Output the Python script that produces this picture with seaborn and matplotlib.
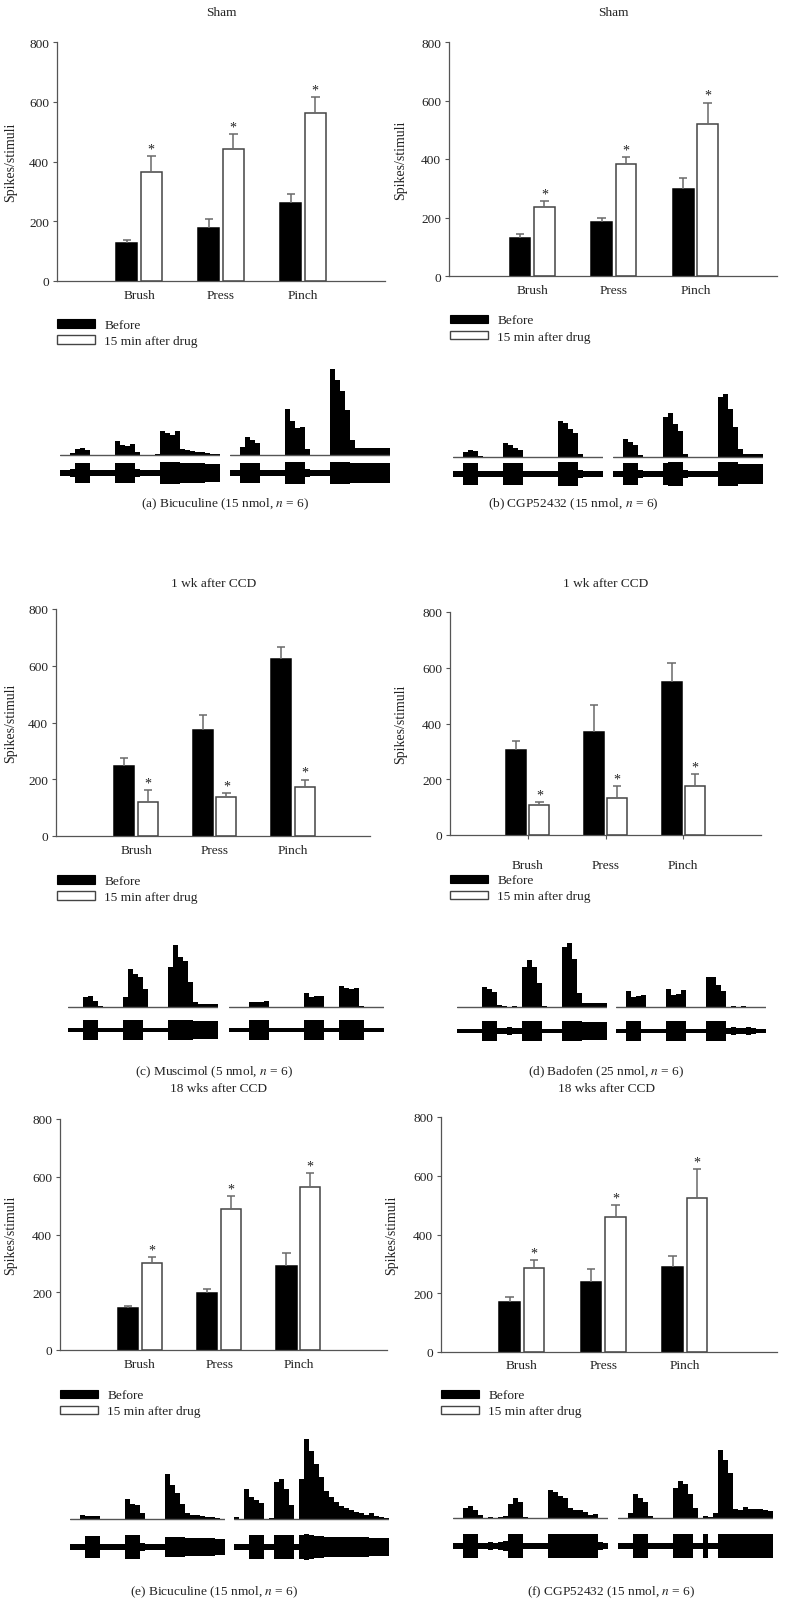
import numpy as np
import pandas as pd
import matplotlib
matplotlib.use("Agg")
import matplotlib.pyplot as plt
import seaborn as sns
from matplotlib.patches import Patch

# ---------------- data ----------------
categories = ["Brush", "Press", "Pinch"]
conditions = ["Before", "15 min after drug"]

a_before, a_before_sem = [128, 179, 262], [8, 27, 28]
a_after, a_after_sem = [364, 443, 562], [54, 48, 53]
b_before, b_before_sem = [130, 185, 298], [15, 13, 36]
b_after, b_after_sem = [235, 382, 518], [21, 24, 75]
c_before, c_before_sem = [245, 374, 624], [29, 51, 41]
c_after, c_after_sem = [120, 136, 171], [43, 15, 28]
d_before, d_before_sem = [305, 371, 548], [34, 96, 69]
d_after, d_after_sem = [108, 132, 174], [9, 42, 45]
e_before, e_before_sem = [145, 198, 291], [6, 13, 44]
e_after, e_after_sem = [300, 490, 563], [21, 44, 49]
f_before, f_before_sem = [169, 237, 288], [17, 45, 40]
f_after, f_after_sem = [285, 458, 524], [28, 43, 98]

titles = ["Sham", "Sham", "1 wk after CCD", "1 wk after CCD", "18 wks after CCD", "18 wks after CCD"]
captions = ["(a) Bicuculine (15 nmol, $n$ = 6)", "(b) CGP52432 (15 nmol, $n$ = 6)",
            "(c) Muscimol (5 nmol, $n$ = 6)", "(d) Badofen (25 nmol, $n$ = 6)",
            "(e) Bicuculine (15 nmol, $n$ = 6)", "(f) CGP52432 (15 nmol, $n$ = 6)"]

# peristimulus histograms (spikes per bin) and raw-trace envelopes
a_hist_before = [0.5,0.5,2,6,7,5,0.5,0,0.5,0, 0.5,14,10,9,11,3,0.5,0,0.5,1, 24,22,20,24,6,5,4,3,3,2, 1,1]
a_hist_after = [0.5,0.5,8,18,15,12,0.5,0,0,0.5, 0,46,34,27,28,6,0.5,0,0,0.5, 86,75,64,45,15,7,7,7,7,7, 7,7]
a_raw_before = [3,3,4,10,10,10,3,3,3,3, 3,10,10,10,10,4,3,3,3,3, 11,11,11,11,10,10,10,10,10,9, 9,9]
a_raw_after = [3,3,10,10,10,10,3,3,3,3, 3,11,11,11,11,4,3,3,3,3, 11,11,11,11,10,10,10,10,10,10, 10,10]

b_hist_before = [0.5,0.5,5,7,6,1,0.5,0.5,0.5,0.5, 14,12,9,7,0.5,0.5,0.5,0.5,0.5,0.5, 0.5,36,34,28,24,3,0.5,0.5,0.5,0.5]
b_hist_after = [0.5,0.5,18,15,12,2,0.5,0.5,0.5,0.5, 40,44,33,26,3,0.5,0,0.5,0,0.5, 0.5,60,63,48,30,8,3,3,3,3]
b_raw_before = [3,3,11,11,11,3,3,3,3,3, 11,11,11,11,3,3,3,3,3,3, 3,12,12,12,12,4,3,3,3,3]
b_raw_after = [3,3,11,11,11,4,3,3,3,3, 11,12,12,12,4,3,3,3,3,3, 3,12,12,12,12,10,10,10,10,10]

c_hist_before = [0,0,0.5,10,11,6,1,0.5,0,0.5, 0.5,10,38,33,30,18,0.5,0.5,0,0.5, 40,62,50,46,25,5,3,3,3,3]
c_hist_after = [0,0,0,0,5,5,5,6,0,0, 0,0,0,0,0,14,10,11,11,0, 0,0,21,19,18,19,1,0,0,0, 0]
c_raw_before = [2,2,2,10,10,10,2,2,2,2, 2,10,10,10,10,2,2,2,2,2, 10,10,10,10,10,9,9,9,9,9]
c_raw_after = [2,2,2,2,10,10,10,10,2,2, 2,2,2,2,2,10,10,10,10,2, 2,2,10,10,10,10,10,2,2,2, 2]

d_hist_before = [0,0,0,0,0.5,20,18,15,2,1, 0.5,1,0.5,40,47,40,24,1,0,0, 0,60,64,48,14,4,4,4,4,4]
d_hist_after = [0,0,16,10,11,12,0,0,0,0, 18,12,13,17,0,0,0,0,30,30, 22,16,0.5,1,0.5,1,0,0,0,0]
d_raw_before = [2,2,2,2,2,10,10,10,3,3, 4,3,3,10,10,10,10,2,2,2, 2,10,10,10,10,9,9,9,9,9]
d_raw_after = [2,2,10,10,10,2,2,2,2,2, 10,10,10,10,2,2,2,2,10,10, 10,10,3,4,3,3,4,3,2,2]

e_hist_before = [0,0,4,3,3,3,0,0,0,0, 0,20,15,14,6,0,0,0,0,45, 34,26,15,6,4,4,3,2,2,1, 0]
e_hist_after = [2,0,30,22,19,16,0,1,37,40, 30,14,0,40,80,68,55,42,28,22, 17,13,11,9,7,6,4,6,3,2, 1]
e_raw_before = [3,3,3,11,11,11,3,3,3,3, 3,12,12,12,4,3,3,3,3,10, 10,10,10,9,9,9,9,9,9,8, 8]
e_raw_after = [3,3,3,12,12,12,3,3,12,12, 12,12,3,12,13,12,11,11,10,10, 10,10,10,10,10,10,10,9,9,9, 9]

f_hist_before = [0,0,10,12,8,3,0.5,1,0.5,1, 2,14,20,16,1,0,0,0,0,28, 26,22,20,10,8,8,6,3,4,0, 0]
f_hist_after = [0,0,5,24,20,16,2,0,0,0, 0,30,37,34,24,10,0,2,1,5, 68,58,45,9,8,11,9,9,9,8, 7]
f_raw_before = [3,3,12,12,12,3,3,4,3,4, 5,12,12,12,3,3,3,3,3,12, 12,12,12,12,12,12,12,12,12,4, 3]
f_raw_after = [3,3,3,12,12,12,3,3,3,3, 3,12,12,12,12,3,3,12,3,3, 12,12,12,12,12,12,12,12,12,12, 12]

# ---------------- style ----------------
sns.set_theme(style="white")
plt.rcParams["font.family"] = ["Liberation Serif", "DejaVu Serif"]
plt.rcParams["mathtext.fontset"] = "stix"
AXC = "#555555"
ERC = "#6a6a6a"
TXT = "#222222"
FS = 9.6

W, H = 785, 1606
fig = plt.figure(figsize=(W / 100, H / 100), dpi=100)
fig.patch.set_facecolor("white")


def add_ax(l, t, r, b):
    return fig.add_axes([l / W, 1 - b / H, (r - l) / W, (b - t) / H])


def ftext(x, y, s, **kw):
    fig.text(x / W, 1 - y / H, s, ha="center", va="center", fontsize=FS, color=TXT, **kw)


def bar_panel(box, before, bsem, after, asem, xlim, ylab_dx, xpad, xtick_len):
    l, t, r, b = box
    ax = add_ax(l, t, r, b)
    df = pd.DataFrame({
        "Stimulus": categories * 2,
        "Condition": [conditions[0]] * 3 + [conditions[1]] * 3,
        "Spikes": list(before) + list(after),
    })
    sns.barplot(data=df, x="Stimulus", y="Spikes", hue="Condition", order=categories,
                hue_order=conditions, palette=["black", "white"], saturation=1,
                width=0.6, gap=0.15, errorbar=None, legend=False, ax=ax,
                linewidth=1.1, edgecolor="#444444", zorder=2)
    px_per_unit = (r - l) / (xlim[1] - xlim[0])
    half_cap = 4.2 / px_per_unit
    for cont, sems, sig in zip(ax.containers, [bsem, asem], [False, True]):
        for p, s in zip(cont.patches, sems):
            if not sig:
                p.set_edgecolor("black")
            x = p.get_x() + p.get_width() / 2
            top = p.get_height()
            ax.vlines(x, top, top + s, colors=ERC, linewidth=1.1, zorder=3)
            ax.hlines(top + s, x - half_cap, x + half_cap, colors=ERC, linewidth=1.1, zorder=3)
            if sig:
                ax.annotate("*", (x, top + s), xytext=(0, 0.5), textcoords="offset points",
                            ha="center", va="bottom", fontsize=FS + 0.5, color=TXT)
    ax.set_ylim(0, 800)
    ax.set_yticks([0, 200, 400, 600, 800])
    ax.set_xlim(*xlim)
    ax.set_xlabel("")
    ax.set_ylabel("Spikes/stimuli", fontsize=FS + 0.4, color=TXT)
    ax.yaxis.set_label_coords(-ylab_dx / (r - l), 0.5)
    for side in ["top", "right"]:
        ax.spines[side].set_visible(False)
    for side in ["left", "bottom"]:
        ax.spines[side].set_color(AXC)
        ax.spines[side].set_linewidth(0.9)
    ax.tick_params(axis="y", direction="out", length=3, width=0.8, color=AXC,
                   pad=2.8, labelsize=FS, labelcolor=TXT, left=True)
    ax.tick_params(axis="x", direction="out", length=xtick_len, width=0.8, color=AXC,
                   pad=xpad, labelsize=FS, labelcolor=TXT, bottom=xtick_len > 0)
    ax.set_facecolor("white")
    ax.grid(False)
    return ax


def legend_at(x, y_row1):
    handles = [Patch(facecolor="black", edgecolor="black", linewidth=0.8),
               Patch(facecolor="white", edgecolor="#444444", linewidth=1.0)]
    fig.legend(handles=handles, labels=conditions, loc="upper left",
               bbox_to_anchor=(x / W, 1 - (y_row1 - 7) / H), frameon=False,
               fontsize=FS, handlelength=2.85, handleheight=0.6, handletextpad=0.7,
               labelspacing=0.3, borderpad=0, borderaxespad=0, labelcolor=TXT)


def trace(x0, base_y, raw_y, heights, env):
    n = len(heights)
    x1 = x0 + 5 * n
    hax = add_ax(x0, base_y - 95, x1, base_y + 2)
    hax.bar(np.arange(n), heights, width=1, align="edge", color="black", linewidth=0)
    hax.axhline(0, color=AXC, lw=1.0)
    hax.set_xlim(0, n)
    hax.set_ylim(-2, 95)
    hax.axis("off")
    rax = add_ax(x0, raw_y - 16, x1, raw_y + 16)
    e = np.array(list(env) + [env[-1]], dtype=float)
    rax.fill_between(np.arange(n + 1), -e, e, step="post", color="black", linewidth=0)
    rax.set_xlim(0, n)
    rax.set_ylim(-16, 16)
    rax.axis("off")


# ---------------- panels ----------------
panels = [
    dict(box=(57, 43, 385, 282), data=(a_before, a_before_sem, a_after, a_after_sem), xlim=(-1, 3.0),
         ylab=40, xpad=6, xtl=0, title=(221, 13), leg=(57, 327),
         tr=((60, a_hist_before, a_raw_before), (230, a_hist_after, a_raw_after)), base=456, raw=474, cap=(225, 504)),
    dict(box=(449, 43, 777, 277), data=(b_before, b_before_sem, b_after, b_after_sem), xlim=(-1.02, 3.0),
         ylab=42, xpad=6, xtl=0, title=(613, 13), leg=(450, 322.5),
         tr=((453, b_hist_before, b_raw_before), (613, b_hist_after, b_raw_after)), base=458, raw=475, cap=(573, 504)),
    dict(box=(56, 610, 370, 837), data=(c_before, c_before_sem, c_after, c_after_sem), xlim=(-1.02, 2.98),
         ylab=39, xpad=6, xtl=0, title=(214, 584), leg=(57, 883),
         tr=((68, c_hist_before, c_raw_before), (229, c_hist_after, c_raw_after)), base=1008, raw=1031, cap=(214, 1072)),
    dict(box=(450, 613, 761, 836), data=(d_before, d_before_sem, d_after, d_after_sem), xlim=(-1.0, 3.0),
         ylab=43, xpad=14, xtl=3, title=(606, 584), leg=(450, 882.5),
         tr=((457, d_hist_before, d_raw_before), (616, d_hist_after, d_raw_after)), base=1008, raw=1032, cap=(606, 1072)),
    dict(box=(60, 1120, 387, 1351), data=(e_before, e_before_sem, e_after, e_after_sem), xlim=(-1.01, 3.12),
         ylab=43, xpad=6, xtl=0, title=(219, 1089), leg=(60, 1397.5),
         tr=((70, e_hist_before, e_raw_before), (234, e_hist_after, e_raw_after)), base=1520, raw=1548, cap=(214, 1592)),
    dict(box=(441, 1118, 777, 1353), data=(f_before, f_before_sem, f_after, f_after_sem), xlim=(-0.99, 3.13),
         ylab=43, xpad=5, xtl=0, title=(606, 1089), leg=(441, 1397.5),
         tr=((453, f_hist_before, f_raw_before), (618, f_hist_after, f_raw_after)), base=1519, raw=1547, cap=(611, 1592)),
]

for i, P in enumerate(panels):
    bar_panel(P["box"], *P["data"], xlim=P["xlim"], ylab_dx=P["ylab"], xpad=P["xpad"], xtick_len=P["xtl"])
    ftext(*P["title"], titles[i])
    legend_at(*P["leg"])
    for x0, hts, env in P["tr"]:
        trace(x0, P["base"], P["raw"], hts, env)
    ftext(*P["cap"], captions[i])

fig.savefig("out.png", dpi=100, facecolor="white")
